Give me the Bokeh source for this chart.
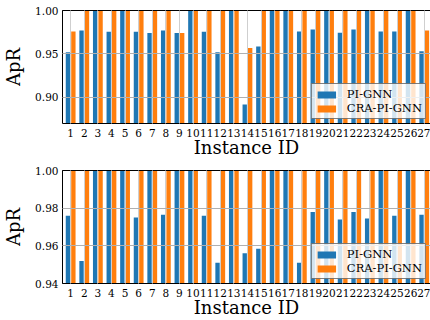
from bokeh.plotting import figure
from bokeh.models import (Range1d, FixedTicker, LinearAxis, Legend, LegendItem,
                          PrintfTickFormatter, ColumnDataSource)
from bokeh.layouts import column
from bokeh.transform import dodge
from bokeh.embed import file_html
from bokeh.resources import INLINE

# ---------------- data ----------------
instance_ids = [1, 2, 3, 4, 5, 6, 7, 8, 9, 10, 11, 12, 13, 14, 15, 16, 17, 18, 19,
                20, 21, 22, 23, 24, 25, 26, 27]
series_names = ["PI-GNN", "CRA-PI-GNN"]

top_pi_gnn = [0.952, 0.977, 1.000, 0.9755, 1.000, 0.9755, 0.974, 0.977, 0.974, 1.000,
              0.9755, 0.952, 1.000, 0.892, 0.9586, 1.000, 1.000, 0.9757, 0.978, 1.000,
              0.9743, 0.978, 1.000, 0.9757, 0.9757, 1.000, 0.953]
top_cra_pi_gnn = [0.9757, 1.000, 1.000, 1.000, 1.000, 1.000, 1.000, 1.000, 0.974, 1.000,
                  1.000, 1.000, 1.000, 0.957, 1.000, 1.000, 1.000, 1.000, 1.000, 1.000,
                  1.000, 1.000, 1.000, 1.000, 1.000, 1.000, 0.977]

bottom_pi_gnn = [0.976, 0.952, 1.000, 1.000, 1.000, 0.975, 1.000, 0.9765, 1.000, 1.000,
                 0.976, 0.951, 1.000, 0.956, 0.9585, 1.000, 1.000, 0.951, 0.978, 1.000,
                 0.974, 0.978, 0.9745, 1.000, 0.976, 1.000, 0.9765]
bottom_cra_pi_gnn = [1.000, 1.000, 1.000, 1.000, 1.000, 1.000, 1.000, 1.000, 1.000, 1.000,
                     1.000, 1.000, 1.000, 1.000, 1.000, 1.000, 1.000, 1.000, 1.000, 1.000,
                     1.000, 1.000, 1.000, 1.000, 1.000, 1.000, 1.000]

top_yticks = [0.90, 0.95, 1.00]
bottom_yticks = [0.94, 0.96, 0.98, 1.00]
top_ylim = (0.87, 1.0)
bottom_ylim = (0.94, 1.0)
x_label = "Instance ID"
y_label = "ApR"

# ---------------- style ----------------
BLUE = "#1f77b4"
ORANGE = "#ff7f0e"
SERIF = "DejaVu Serif"
W = 430


def make_panel(pi, cra, ylim, yticks, height, b_top, b_bottom):
    src = ColumnDataSource(dict(x=instance_ids, pi=pi, cra=cra))
    p = figure(width=W, height=height, output_backend="svg", toolbar_location=None,
               x_range=Range1d(0.4, 27.46), y_range=Range1d(*ylim),
               min_border_left=62, min_border_right=0,
               min_border_top=b_top, min_border_bottom=b_bottom,
               background_fill_color="white", border_fill_color="white")
    p.outline_line_color = None

    r1 = p.vbar(x=dodge("x", -0.2, range=p.x_range), top="pi", bottom=0, width=0.32,
                source=src, fill_color=BLUE, line_color=None)
    r2 = p.vbar(x=dodge("x", 0.2, range=p.x_range), top="cra", bottom=0, width=0.32,
                source=src, fill_color=ORANGE, line_color=None)

    # axes
    for ax in (p.xaxis[0], p.yaxis[0]):
        ax.axis_line_color = "black"
        ax.axis_line_width = 1
        ax.major_tick_in = 4
        ax.major_tick_out = 0
        ax.major_tick_line_color = "black"
        ax.minor_tick_line_color = None
        ax.major_label_text_font = SERIF
        ax.major_label_text_font_size = "10.5px"
        ax.major_label_text_color = "black"
        ax.axis_label_text_font = SERIF
        ax.axis_label_text_font_size = "18px"
        ax.axis_label_text_font_style = "normal"
        ax.axis_label_text_color = "black"

    p.xaxis.ticker = FixedTicker(ticks=instance_ids)
    p.xaxis.formatter = PrintfTickFormatter(format="%d")
    p.xaxis.axis_label = x_label
    p.xaxis.major_label_standoff = 5
    p.xaxis.axis_label_standoff = -3

    p.yaxis.ticker = FixedTicker(ticks=yticks)
    p.yaxis.formatter = PrintfTickFormatter(format="%.2f")
    p.yaxis.axis_label = y_label
    p.yaxis.major_label_standoff = 4
    p.yaxis.axis_label_standoff = 8

    # top spine
    top = LinearAxis(ticker=FixedTicker(ticks=[]), major_label_text_font_size="0px",
                     axis_line_color="black", axis_line_width=1,
                     major_tick_line_color=None, minor_tick_line_color=None,
                     major_label_standoff=0)
    p.add_layout(top, "above")

    # grids above bars (like matplotlib axisbelow='line')
    p.xgrid.ticker = FixedTicker(ticks=instance_ids)
    p.xgrid.grid_line_color = "#cfcfcf"
    p.xgrid.grid_line_width = 1
    p.ygrid.ticker = FixedTicker(ticks=yticks)
    p.ygrid.grid_line_color = "#b0b0b0"
    p.ygrid.grid_line_width = 1
    p.xgrid.level = "guide"
    p.ygrid.level = "guide"

    legend = Legend(items=[LegendItem(label=series_names[0], renderers=[r1]),
                           LegendItem(label=series_names[1], renderers=[r2])],
                    location="bottom_right", margin=4, padding=3, spacing=0,
                    glyph_width=23, glyph_height=9, label_standoff=9, label_height=13,
                    label_text_font=SERIF, label_text_font_size="11.5px",
                    label_text_color="black",
                    border_line_color="black", border_line_width=1,
                    background_fill_color="white", background_fill_alpha=0.8)
    p.add_layout(legend)
    return p


p1 = make_panel(top_pi_gnn, top_cra_pi_gnn, top_ylim, top_yticks, 160, 10, 36)
p2 = make_panel(bottom_pi_gnn, bottom_cra_pi_gnn, bottom_ylim, bottom_yticks, 160, 10, 36)

layout = column(p1, p2, spacing=0)
open("out.html", "w").write(file_html(layout, INLINE))
